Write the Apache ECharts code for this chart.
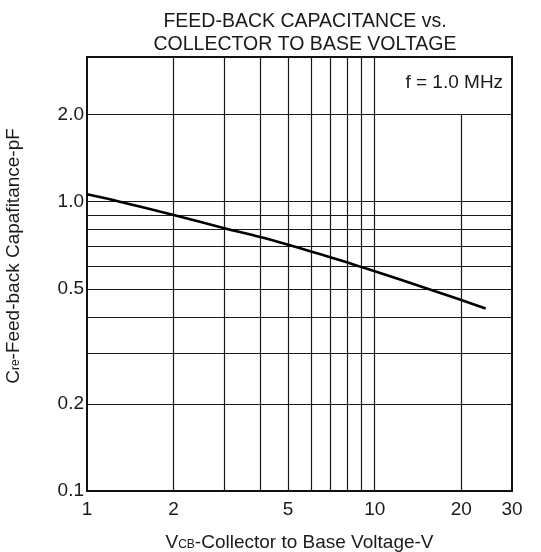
<!DOCTYPE html>
<html><head><meta charset="utf-8">
<script src="https://cdn.jsdelivr.net/npm/echarts@6/dist/echarts.min.js"></script>
<style>html,body{margin:0;padding:0;background:#fff}#c{width:541px;height:552px}</style>
</head><body><div id="c"></div>
<script>
const voltage = [1, 1.3, 2, 3, 4, 5, 6, 7, 8, 9, 10, 15, 20, 24.3];
const capacitance = [1.06, 1.0, 0.9, 0.81, 0.755, 0.71, 0.673, 0.643, 0.617, 0.594, 0.575, 0.503, 0.457, 0.427];
const xTickLabels = [1, 2, 5, 10, 20, 30];
const yTickLabels = [0.1, 0.2, 0.5, 1.0, 2.0];
const xGridValues = [2, 3, 4, 5, 6, 7, 8, 9, 10];
const xGridShort = [20];
const yGridValues = [0.2, 0.3, 0.4, 0.5, 0.6, 0.7, 0.8, 0.9, 1.0, 2.0];
const xRange = [1, 30];
const yRange = [0.1, Math.sqrt(10)];
const boxTop = 2.0;
const annotation = 'f = 1.0 MHz';
const annotationAt = [18.9, 2.58];

const FONT = 'Liberation Sans, Arial, sans-serif';
const FS = 19;
const TXT = '#1a1a1a';
const gridLine = { color: '#1a1a1a', width: 1.2, type: 'solid' };

const markData = [];
xGridValues.forEach(v => markData.push({ xAxis: v }));
yGridValues.forEach(v => markData.push({ yAxis: v }));
xGridShort.forEach(v => markData.push([{ coord: [v, yRange[0]] }, { coord: [v, boxTop] }]));

const chart = echarts.init(document.getElementById('c'), null, { renderer: 'canvas' });
chart.setOption({
  animation: false,
  backgroundColor: '#fff',
  title: {
    text: 'FEED-BACK CAPACITANCE vs.\nCOLLECTOR TO BASE VOLTAGE',
    left: 300, textAlign: 'center', top: 5,
    textStyle: { fontFamily: FONT, fontSize: 19.5, fontWeight: 'normal', color: TXT, lineHeight: 23 }
  },
  grid: { left: 87, right: 29, top: 57, bottom: 61, show: true, borderColor: '#111', borderWidth: 2,
          containLabel: false, outerBoundsMode: 'none' },
  xAxis: {
    type: 'log', logBase: 10, min: xRange[0], max: xRange[1],
    axisLine: { show: false }, axisTick: { show: false }, splitLine: { show: false },
    axisLabel: { customValues: xTickLabels, formatter: v => String(Math.round(v)), fontFamily: FONT, fontSize: FS, color: TXT, margin: 9 },
    name: '{n|V}{s|CB}{n|-Collector to Base Voltage-V}',
    nameLocation: 'middle', nameGap: 42,
    nameTextStyle: { rich: {
      n: { fontFamily: FONT, fontSize: FS, color: TXT },
      s: { fontFamily: FONT, fontSize: 12, color: TXT, padding: [5, 0, 0, 0] }
    } }
  },
  yAxis: {
    type: 'log', logBase: 10, min: yRange[0], max: yRange[1],
    axisLine: { show: false }, axisTick: { show: false }, splitLine: { show: false },
    axisLabel: { customValues: yTickLabels, formatter: v => Number(v).toFixed(1), fontFamily: FONT, fontSize: FS, color: TXT, margin: 3 },
    name: '{n|C}{s|re}{n|-Feed-back Capafitance-pF}',
    nameLocation: 'middle', nameGap: 64, nameRotate: 90,
    nameTextStyle: { padding: [0, 0, 0, 36], rich: {
      n: { fontFamily: FONT, fontSize: FS, color: TXT },
      s: { fontFamily: FONT, fontSize: 12, color: TXT, padding: [5, 0, 0, 0] }
    } }
  },
  series: [{
    type: 'line',
    data: voltage.map((v, i) => [v, capacitance[i]]),
    smooth: 0.3, showSymbol: false, symbol: 'none',
    lineStyle: { color: '#000', width: 2.6 },
    z: 5,
    markLine: { silent: true, symbol: ['none', 'none'], label: { show: false }, lineStyle: gridLine, data: markData, z: 1 },
    markPoint: {
      silent: true, symbol: 'circle', symbolSize: 0,
      label: { show: true, position: 'inside', formatter: annotation, fontFamily: FONT, fontSize: FS, color: TXT },
      data: [{ coord: annotationAt }]
    }
  }]
});
</script></body></html>
